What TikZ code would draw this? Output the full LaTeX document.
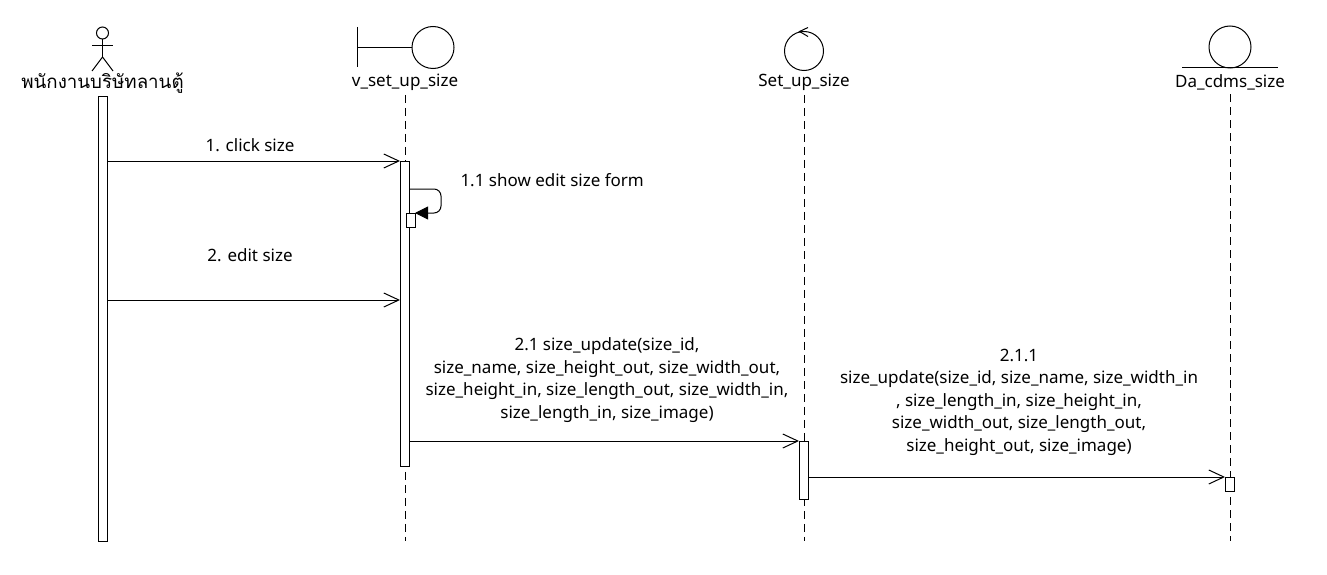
\documentclass[tikz,border=0pt]{standalone}
\usepackage{fontspec}
\setmainfont{Noto Sans}
\newfontfamily\thaifont[Script=Thai]{Loma}
\usetikzlibrary{arrows.meta,positioning,calc}

\begin{document}
\begin{tikzpicture}[x=1pt,y=-1pt,line width=1pt,
  lbl/.style={font=\fontsize{17}{22.5}\selectfont,inner sep=0pt,align=center},
  head/.style={circle,draw,inner sep=0pt},
  life/.style={dash pattern=on 8pt off 5pt},
  act/.style={draw,fill=white,minimum width=9pt,inner sep=0pt},
  msg/.style={-{Straight Barb[length=15pt,width=14pt]}},
  self/.style={rounded corners=7pt,-{Triangle[length=13pt,width=13pt]}}]
  \useasboundingbox (0,0) rectangle (1327,575);
  % actor
  \node[head,minimum size=12pt] (empHead) at (102.5,33) {};
  \coordinate (empHip) at (102.5,57);
  \draw (empHead.south) -- (empHip);
  \draw (92,46) -- (113,46);
  \draw (92,71) -- (empHip) -- (113,71);
  \node[lbl,font=\fontsize{18.7}{22.5}\selectfont] (emp) at (102.5,83) {\thaifont พนักงานบริษัทลานตู้};
  % boundary
  \node[head,minimum size=42pt] (vHead) at (433,47.5) {};
  \draw (357,27) -- (357,67);
  \draw (357,47.5) -- (vHead.west);
  \node[lbl] (vsize) at (405,82) {v\_set\_up\_size};
  % control
  \node[head,minimum size=39pt] (ctrlHead) at (804,51) {};
  \draw (808,27.5) -- (799.5,31.5) -- (808,36.5);
  \node[lbl] (ctrl) at (804,82) {Set\_up\_size};
  % entity
  \node[head,minimum size=42pt] (entHead) at (1230,47) {};
  \draw (1182,68) -- (1278,68);
  \node[lbl] (ent) at (1230,82) {Da\_cdms\_size};
  % lifelines
  \coordinate (vEnd) at (405,541);
  \coordinate (ctrlEnd) at (804,541);
  \coordinate (entEnd) at (1230,541);
  \draw[life] (vsize.south) ++(0,4) -- (vEnd);
  \draw[life] (ctrl.south) ++(0,4) -- (ctrlEnd);
  \draw[life] (ent.south) ++(0,4) -- (entEnd);
  % activations
  \node[act,minimum height=445pt,anchor=north] (empAct) at (102.5,96) {};
  \node[act,minimum height=305pt,anchor=north] (vAct) at (405,161) {};
  \node[act,minimum height=58pt,anchor=north] (ctrlAct) at (804,441) {};
  \node[act,minimum height=14pt,anchor=north] (entAct) at (1230,477) {};
  % messages
  \draw[msg] (empAct.east |- vAct.north west) -- (vAct.north west);
  \node[lbl] (m1) at (250,145) {1. click size};
  \draw[self] (vAct.east |- 0,189) -- (441,189) -- (441,213) -- (415,213);
  \node[act,minimum height=14pt,anchor=north west] (vSelf) at (405.5,213) {};
  \node[lbl,anchor=west] (m11) at (460,180) {1.1 show edit size form};
  \coordinate (m2) at (vAct.west |- 0,300);
  \draw[msg] (empAct.east |- m2) -- (m2);
  \node[lbl] (m2t) at (250,255) {2. edit size};
  \draw[msg] (vAct.east |- ctrlAct.north) -- (ctrlAct.north west);
  \node[lbl] (m21) at (607,380) {2.1 size\_update(size\_id,\\size\_name, size\_height\_out, size\_width\_out,\\size\_height\_in, size\_length\_out, size\_width\_in,\\size\_length\_in, size\_image)};
  \draw[msg] (ctrlAct.east |- entAct.north) -- (entAct.north west);
  \node[lbl] (m211) at (1019,402) {2.1.1\\size\_update(size\_id, size\_name, size\_width\_in\\, size\_length\_in, size\_height\_in,\\size\_width\_out, size\_length\_out,\\size\_height\_out, size\_image)};
\end{tikzpicture}
\end{document}
